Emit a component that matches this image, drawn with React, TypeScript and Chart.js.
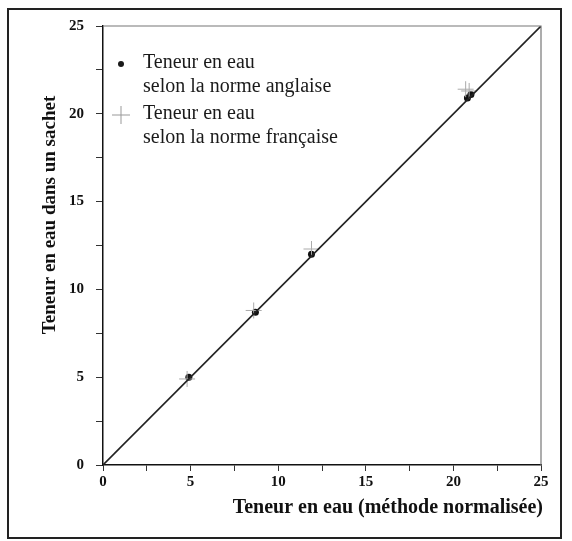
import React, { useEffect, useRef } from "react";
import { Chart, registerables } from "chart.js";

Chart.register(...registerables);

const englishX = [4.9, 8.7, 11.9, 20.8, 21.0];
const englishY = [5.0, 8.7, 12.0, 20.9, 21.1];
const frenchX = [4.8, 8.6, 11.9, 20.7, 20.9];
const frenchY = [4.9, 8.8, 12.3, 21.4, 21.3];
const lineX = [0, 25];
const lineY = [0, 25];
const tickLabels = ["0", "5", "10", "15", "20", "25"];
const legendEnglish = ["Teneur en eau", "selon la norme anglaise"];
const legendFrench = ["Teneur en eau", "selon la norme française"];
const xTitle = "Teneur en eau (méthode normalisée)";
const yTitle = "Teneur en eau dans un sachet";

const SERIF = "'Liberation Serif', 'DejaVu Serif', serif";

const toPoints = (xs: number[], ys: number[]) => xs.map((x, i) => ({ x, y: ys[i] }));

const tickCb = (v: any) => {
  const n = Number(v);
  if (Math.abs(n % 5) < 1e-9) return tickLabels[Math.round(n / 5)];
  return "";
};

const decorPlugin = {
  id: "decor",
  beforeDraw(chart: any) {
    const ctx = chart.ctx;
    ctx.save();
    ctx.fillStyle = "#ffffff";
    ctx.fillRect(0, 0, chart.width, chart.height);
    ctx.restore();
  },
  afterDraw(chart: any) {
    const ctx = chart.ctx;
    const a = chart.chartArea;
    ctx.save();
    // outer frame
    ctx.strokeStyle = "#222";
    ctx.lineWidth = 2;
    ctx.strokeRect(8, 9, 553, 529);
    // top & right of plot box
    ctx.strokeStyle = "#777";
    ctx.lineWidth = 1.2;
    ctx.beginPath();
    ctx.moveTo(a.left, a.top);
    ctx.lineTo(a.right, a.top);
    ctx.lineTo(a.right, a.bottom);
    ctx.stroke();
    // axis titles
    ctx.fillStyle = "#111";
    ctx.font = "bold 20px " + SERIF;
    ctx.textAlign = "right";
    ctx.textBaseline = "middle";
    ctx.fillText(xTitle, 543, 508);
    ctx.save();
    ctx.font = "bold 19px " + SERIF;
    ctx.translate(50, 215);
    ctx.rotate(-Math.PI / 2);
    ctx.textAlign = "center";
    ctx.fillText(yTitle, 0, 0);
    ctx.restore();
    // legend
    ctx.font = "20px " + SERIF;
    ctx.textAlign = "left";
    ctx.fillStyle = "#1a1a1a";
    ctx.beginPath();
    ctx.arc(121, 64, 3, 0, Math.PI * 2);
    ctx.fill();
    ctx.fillText(legendEnglish[0], 143, 63);
    ctx.fillText(legendEnglish[1], 143, 87);
    ctx.strokeStyle = "#999";
    ctx.lineWidth = 1;
    ctx.beginPath();
    ctx.moveTo(112, 115);
    ctx.lineTo(130, 115);
    ctx.moveTo(121, 106);
    ctx.lineTo(121, 124);
    ctx.stroke();
    ctx.fillText(legendFrench[0], 143, 114);
    ctx.fillText(legendFrench[1], 143, 138);
    ctx.restore();
  },
};

export default function App() {
  const ref = useRef<HTMLCanvasElement | null>(null);
  useEffect(() => {
    document.body.style.margin = "0";
    const chart = new Chart(ref.current as HTMLCanvasElement, {
      type: "scatter",
      data: {
        datasets: [
          {
            type: "line",
            data: toPoints(lineX, lineY),
            borderColor: "#222",
            borderWidth: 1.6,
            pointRadius: 0,
            fill: false,
          } as any,
          {
            data: toPoints(frenchX, frenchY),
            pointStyle: "cross",
            pointRadius: 8,
            borderColor: "#aaa",
            borderWidth: 1,
            backgroundColor: "#aaa",
          },
          {
            data: toPoints(englishX, englishY),
            pointStyle: "circle",
            pointRadius: 3.5,
            borderWidth: 0,
            backgroundColor: "#111",
            borderColor: "#111",
          },
        ],
      },
      options: {
        animation: false,
        responsive: false,
        layout: { padding: { left: 0, top: 26, right: 31, bottom: 0 } },
        plugins: { legend: { display: false }, tooltip: { enabled: false } },
        scales: {
          x: {
            type: "linear",
            min: 0,
            max: 25,
            afterFit: (s: any) => {
              s.height = 76;
            },
            ticks: {
              stepSize: 2.5,
              autoSkip: false,
              maxRotation: 0,
              padding: 2,
              color: "#111",
              font: { family: SERIF, size: 15, weight: "bold" },
              callback: tickCb,
            },
            grid: { drawOnChartArea: false, tickLength: 6, color: "#333", tickColor: "#333" },
            border: { color: "#111", width: 1.5 },
          },
          y: {
            type: "linear",
            min: 0,
            max: 25,
            afterFit: (s: any) => {
              s.width = 103;
            },
            ticks: {
              stepSize: 2.5,
              autoSkip: false,
              padding: 12,
              color: "#111",
              font: { family: SERIF, size: 15, weight: "bold" },
              callback: tickCb,
            },
            grid: { drawOnChartArea: false, tickLength: 7, color: "#333", tickColor: "#333" },
            border: { color: "#111", width: 1.5 },
          },
        },
      },
      plugins: [decorPlugin],
    });
    return () => chart.destroy();
  }, []);
  return (
    <div style={{ position: "absolute", left: 0, top: 0 }}>
      <canvas ref={ref} width={572} height={541} style={{ display: "block", width: 572, height: 541 }} />
    </div>
  );
}
